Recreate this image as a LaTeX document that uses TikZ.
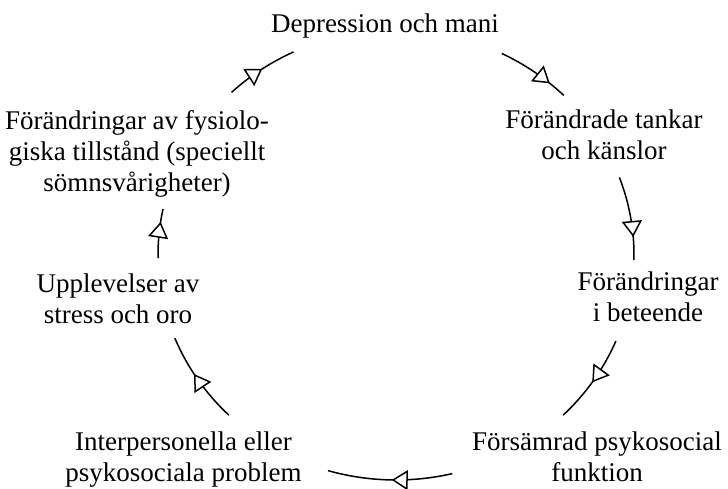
\documentclass[tikz,border=0pt]{standalone}
\usepackage{fontspec}
\setmainfont{Liberation Serif}
\usetikzlibrary{arrows.meta,decorations.markings}
\begin{document}
\begin{tikzpicture}[x=1pt,y=1pt,
  lbl/.style={font=\fontsize{27}{31}\selectfont, inner sep=0pt, align=center, anchor=base},
  cyc/.style={line width=1.5pt, postaction={decorate},
    decoration={markings, mark=at position #1 with {\arrow{Triangle[length=16pt,width=20pt,fill=white,line width=1.5pt]}}}},
]
\useasboundingbox (0,0) rectangle (728,488);
\coordinate (o) at (396,233);
% base anchor = baseline of the last line
\node[lbl] (dep) at (385,455.5) {Depression och mani};
\node[lbl] (tankar) at (604,328.7) {Förändrade tankar\\och känslor};
\node[lbl] (bet) at (648,166.3) {Förändringar\\i beteende};
\node[lbl] (fors) at (597,7) {Försämrad psykosocial\\funktion};
\node[lbl] (inter) at (183.5,7) {Interpersonella eller\\psykosociala problem};
\node[lbl] (upp) at (118,164.7) {Upplevelser av\\stress och oro};
\node[lbl] (fys) at (137,296.3) {Förändringar av fysiolo-\\giska tillstånd (speciellt\\sömnsvårigheter)};
% arcs of the cycle
\draw[cyc=0.52] (o) ++(133.7:238pt and 225pt) arc[start angle=133.7,end angle=115.5,x radius=238pt,y radius=225pt];
\draw[cyc=0.756] (o) ++(63.6:238pt and 225pt) arc[start angle=63.6,end angle=45.2,x radius=238pt,y radius=225pt];
\draw[cyc=0.726] (o) ++(20.2:238pt and 225pt) arc[start angle=20.2,end angle=-1.3,x radius=238pt,y radius=225pt];
\draw[cyc=0.52] (o) ++(-22.5:238pt and 225pt) arc[start angle=-22.5,end angle=-45.4,x radius=238pt,y radius=225pt];
\draw[cyc=0.486] (o) ++(-76.3:238pt and 225pt) arc[start angle=-76.3,end angle=-106.6,x radius=238pt,y radius=225pt];
\draw[cyc=0.57] (o) ++(-134.6:238pt and 225pt) arc[start angle=-134.6,end angle=-158.3,x radius=238pt,y radius=225pt];
\draw[cyc=0.736] (o) ++(180.8:238pt and 225pt) arc[start angle=180.8,end angle=168.2,x radius=238pt,y radius=225pt];
\end{tikzpicture}
\end{document}
